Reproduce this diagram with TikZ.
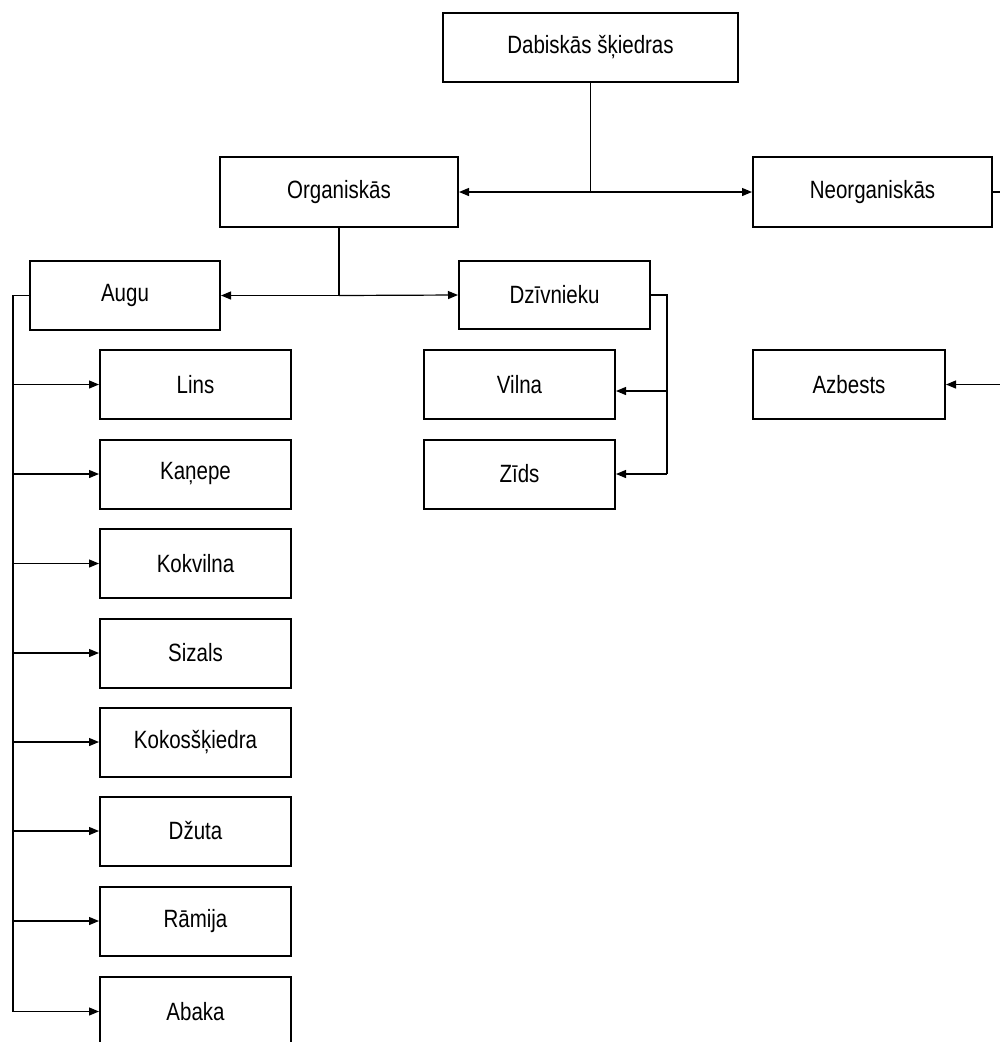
\documentclass[tikz,border=0pt]{standalone}
\usepackage{fontspec}
\setmainfont{Liberation Sans}[FakeStretch=0.82]
\usetikzlibrary{arrows.meta,positioning}

\begin{document}
\begin{tikzpicture}[
  x=1pt,y=-1pt,
  font=\fontsize{25}{28}\selectfont,
  box/.style={draw,line width=2pt,minimum width=191pt,minimum height=69pt,inner sep=0pt,align=center},
  arr/.style={line width=1.2pt,-{Triangle[length=10pt,width=8pt]}},
  link/.style={line width=1.2pt}
]
\useasboundingbox (0,0) rectangle (1000,1042);
% upper levels
\node[box,minimum width=295pt] (dab) at (590.5,47.5) {Dabiskās šķiedras};
\node[box,minimum width=238pt,minimum height=70pt] (org) at (339,192) {Organiskās};
\node[box,minimum width=239pt,minimum height=70pt] (neorg) at (872.5,192) {Neorganiskās};
\node[box,minimum width=190pt] (augu) at (125,295.5) {Augu};
\node[box,minimum height=68pt] (dzivn) at (554.5,295) {Dzīvnieku};
% plant fibres
\node[box] (lins) at (195.5,384.5) {Lins};
\node[box] (kanepe) at (195.5,474) {Kaņepe};
\node[box] (kokv) at (195.5,563.5) {Kokvilna};
\node[box] (sizals) at (195.5,653) {Sizals};
\node[box] (kokos) at (195.5,742) {Kokosšķiedra};
\node[box] (dzuta) at (195.5,831) {Džuta};
\node[box] (ramija) at (195.5,921) {Rāmija};
\node[box] (abaka) at (195.5,1011.5) {Abaka};
% animal and mineral fibres
\node[box] (vilna) at (519.5,384.5) {Vilna};
\node[box] (zids) at (519.5,474) {Zīds};
\node[box,minimum width=192pt] (azb) at (849,384.5) {Azbests};

% connectors
\coordinate (j1) at (dab.south |- org.east);
\draw[link] (dab.south) -- (j1);
\draw[arr] (j1) -- (org.east);
\draw[arr] (j1) -- (neorg.west);

\coordinate (j2) at (org.south |- augu.east);
\draw[link] (org.south) -- (j2);
\draw[arr] (j2) -- (augu.east);
\draw[arr] (j2) -- (dzivn.west);

\coordinate (rail) at (13,295.5);
\draw[link] (augu.west) -- (rail) -- (rail |- abaka.west);
\foreach \n in {lins,kanepe,kokv,sizals,kokos,dzuta,ramija,abaka}
  \draw[arr] (rail |- \n.west) -- (\n.west);

\coordinate (drail) at (667,295);
\draw[link] (dzivn.east) -- (drail) -- (drail |- zids.east);
\draw[arr] (drail |- 0,391) -- ([yshift=-6.5pt]vilna.east);
\draw[arr] (drail |- zids.east) -- (zids.east);

\coordinate (nrail) at (1010,192);
\draw[link] (neorg.east) -- (nrail) -- (nrail |- azb.east);
\draw[arr] (nrail |- azb.east) -- (azb.east);
\end{tikzpicture}
\end{document}
